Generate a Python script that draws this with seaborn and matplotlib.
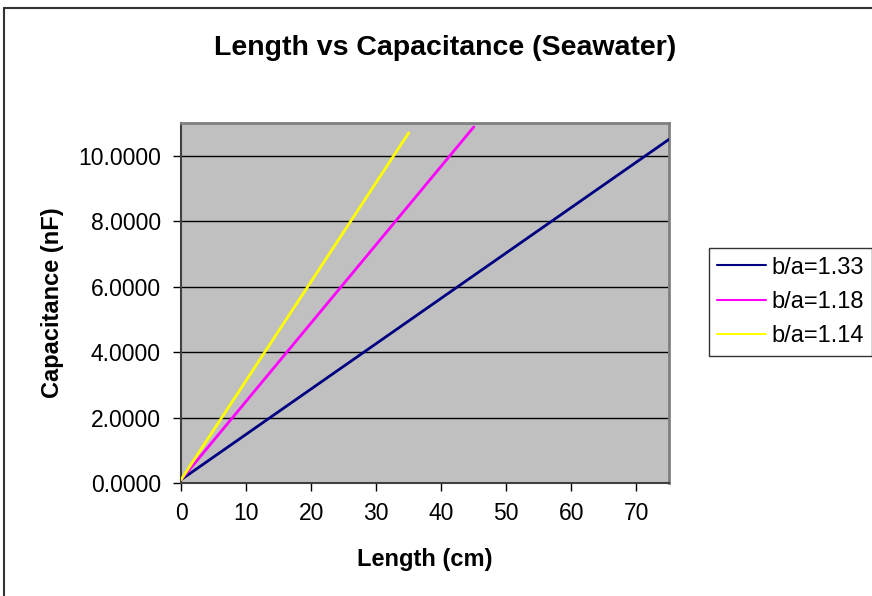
import matplotlib
matplotlib.use("Agg")
import matplotlib.pyplot as plt
from matplotlib.lines import Line2D
import seaborn as sns
import pandas as pd

# Data
series_names = ["b/a=1.33", "b/a=1.18", "b/a=1.14"]
length_133 = [0, 75]
cap_133 = [0.1, 10.5]
length_118 = [0, 45]
cap_118 = [0.1, 10.88]
length_114 = [0, 35]
cap_114 = [0.1, 10.7]
colors = ["#000080", "#FF00FF", "#FFFF00"]
x_ticks = [0, 10, 20, 30, 40, 50, 60, 70]
y_ticks = [0, 2, 4, 6, 8, 10]

rows = []
for name, xs, ys in zip(series_names, [length_133, length_118, length_114],
                        [cap_133, cap_118, cap_114]):
    for x, y in zip(xs, ys):
        rows.append({"Length": x, "Capacitance": y, "Series": name})
df = pd.DataFrame(rows)

sns.set_style("white")
plt.rcParams["font.family"] = ["Liberation Sans", "DejaVu Sans"]
plt.rcParams["text.color"] = "black"
plt.rcParams["axes.labelcolor"] = "black"

fig = plt.figure(figsize=(8.72, 5.96), dpi=100)
ax = fig.add_axes([181/872, 1-483/596, (669-181)/872, (483-123)/596])
ax.set_facecolor("#C0C0C0")

sns.lineplot(data=df, x="Length", y="Capacitance", hue="Series",
             hue_order=series_names, palette=dict(zip(series_names, colors)),
             ax=ax, linewidth=2, legend=True, zorder=3)

ax.set_xlim(0, 75)
ax.set_ylim(0, 11)
ax.set_xticks(x_ticks)
ax.set_yticks(y_ticks)
ax.set_yticklabels([f"{v:.4f}" for v in y_ticks])
ax.yaxis.grid(True, color="black", linewidth=1, zorder=1)
ax.set_axisbelow(True)
ax.tick_params(axis="both", direction="out", length=5.5, width=1, colors="black",
               labelsize=16.5, bottom=True, left=True)
ax.tick_params(axis="x", pad=8)
ax.tick_params(axis="y", pad=9)
for s in ["top", "right"]:
    ax.spines[s].set_color("#808080")
    ax.spines[s].set_linewidth(2)
for s in ["left", "bottom"]:
    ax.spines[s].set_color("#404040")
    ax.spines[s].set_linewidth(1.5)

ax.set_xlabel("Length (cm)", fontsize=17, fontweight="bold")
ax.set_ylabel("Capacitance (nF)", fontsize=17, fontweight="bold")
ax.xaxis.set_label_coords(0.5, (483-548)/360)
ax.yaxis.set_label_coords((64-181)/488, 0.5)
fig.text(445/872, 1-48/596, "Length vs Capacitance (Seawater)", fontsize=20.5,
         fontweight="bold", ha="center", va="center")

leg = ax.legend(loc="center left", bbox_to_anchor=(709/872, 1-302/596),
                bbox_transform=fig.transFigure, frameon=True, fontsize=17,
                handlelength=2.05, handletextpad=0.25, borderpad=0.35,
                labelspacing=0.52, fancybox=False, borderaxespad=0)
leg.get_frame().set_edgecolor("black")
leg.get_frame().set_linewidth(1)
for h in leg.get_lines():
    h.set_linewidth(1.5)

# outer chart border (top and left visible)
fig.add_artist(Line2D([4/872, 4/872], [0, 1-8/596], color="#333333", linewidth=1.5,
                      transform=fig.transFigure))
fig.add_artist(Line2D([4/872, 1], [1-8/596, 1-8/596], color="#333333", linewidth=1.5,
                      transform=fig.transFigure))

fig.savefig("out.png", dpi=100, facecolor="white")
